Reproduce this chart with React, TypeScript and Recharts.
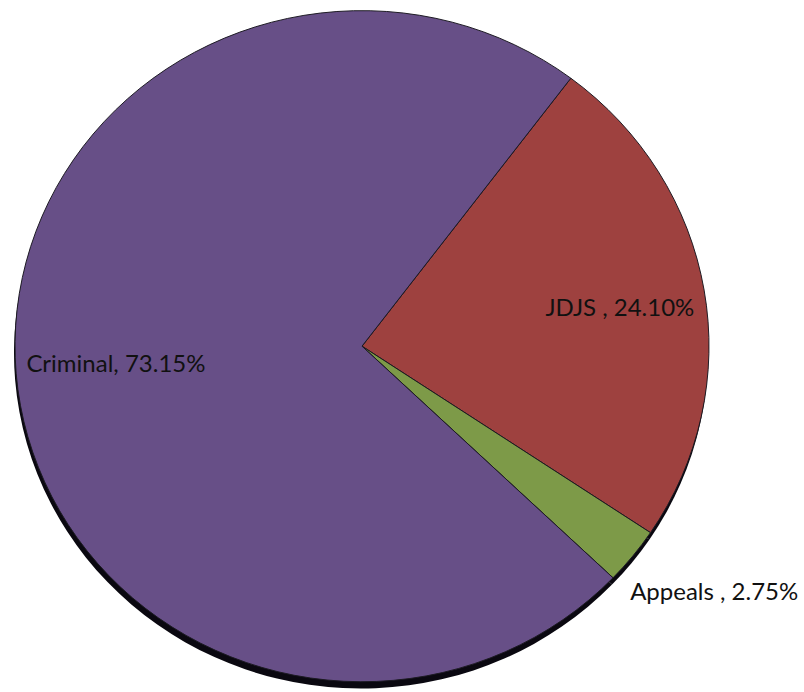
import { Cell, Pie, PieChart } from "recharts";

const names = ["JDJS", "Appeals", "Criminal"];
const shares = [24.1, 2.75, 73.15];
const labels = ["JDJS , 24.10%", "Appeals , 2.75%", "Criminal, 73.15%"];

const data = names.map((name, i) => ({ name, value: shares[i], label: labels[i] }));

const colors = ["#9e413f", "#7d9a48", "#674f87"];
// label placement: distance as a share of the radius, plus a small angle nudge (degrees)
const labelPlace: Record<string, { r: number; da: number }> = {
  JDJS: { r: 0.752, da: -0.8 },
  Appeals: { r: 1.25, da: 3.0 },
  Criminal: { r: 0.711, da: -0.5 },
};

const RAD = Math.PI / 180;

function renderLabel(props: any) {
  const { cx, cy, midAngle, outerRadius, payload } = props;
  const place = labelPlace[payload.name] ?? { r: 0.7, da: 0 };
  const r = outerRadius * place.r;
  const a = midAngle + place.da;
  const x = cx + r * Math.cos(-a * RAD);
  const y = cy + r * Math.sin(-a * RAD);
  return (
    <text
      x={x}
      y={y}
      textAnchor="middle"
      dominantBaseline="central"
      fill="#111"
      fontSize={24}
      fontFamily="Lato, 'Open Sans', sans-serif"
    >
      {payload.label}
    </text>
  );
}

export default function App() {
  return (
    <div style={{ position: "absolute", left: 0, top: 0, width: 804, height: 692, background: "#fff", overflow: "hidden" }}>
      {/* slightly flattened, like the original */}
      <div style={{ transform: "scaleY(0.967)", transformOrigin: "top left" }}>
        <PieChart width={804} height={716} margin={{ top: 0, right: 0, bottom: 0, left: 0 }}>
          <Pie
            data={data}
            dataKey="value"
            cx={361}
            cy={365}
            outerRadius={347}
            startAngle={53}
            endAngle={-307}
            stroke="none"
            fill="#0a0810"
            isAnimationActive={false}
            legendType="none"
          />
          <Pie
            data={data}
            dataKey="value"
            cx={362}
            cy={358}
            outerRadius={347}
            startAngle={53}
            endAngle={-307}
            stroke="#1c1a22"
            strokeWidth={1}
            labelLine={false}
            label={renderLabel}
            isAnimationActive={false}
          >
            {data.map((d, i) => (
              <Cell key={d.name} fill={colors[i]} />
            ))}
          </Pie>
        </PieChart>
      </div>
    </div>
  );
}
